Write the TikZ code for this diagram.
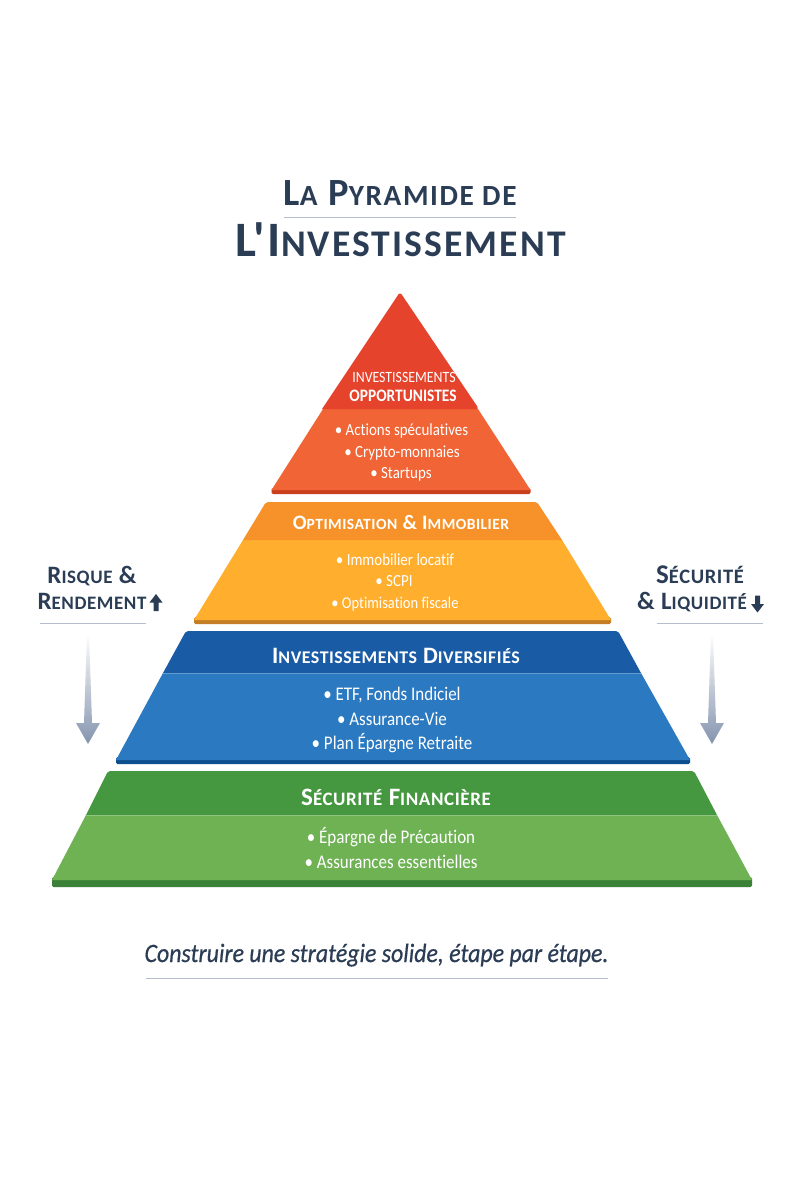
\documentclass[tikz,border=0pt]{standalone}
\usepackage{fontspec}
\setmainfont{Carlito}
\newfontfamily\cond[FakeStretch=0.88,Ligatures=NoCommon]{Carlito}
\newfontfamily\tcaps[LetterSpace=3,Ligatures=NoCommon]{Carlito}
\newfontfamily\tbig[LetterSpace=5.5,Ligatures=NoCommon]{Carlito}
\newfontfamily\tagf[FakeStretch=0.9,FakeBold=0.6,Ligatures=NoCommon]{Carlito}
\newcommand\smc[1]{\scalebox{.76}{#1}}
\usetikzlibrary{calc}
\definecolor{ink}{HTML}{2B3D55}
\definecolor{rulec}{HTML}{B4BECD}
\definecolor{arrowc}{HTML}{8494AE}
\definecolor{redA}{HTML}{E5432C}\definecolor{redB}{HTML}{F06435}\definecolor{redS}{HTML}{C9401F}
\definecolor{orA}{HTML}{F7922B}\definecolor{orB}{HTML}{FFAE2E}\definecolor{orS}{HTML}{C47F24}
\definecolor{blA}{HTML}{1A5BA6}\definecolor{blB}{HTML}{2A79C1}\definecolor{blS}{HTML}{0C4E8E}
\definecolor{grA}{HTML}{45983F}\definecolor{grB}{HTML}{6FB254}\definecolor{grS}{HTML}{3B8238}
\tikzset{
  x=1pt,y=-1pt,
  txt/.style={inner sep=0pt,outer sep=0pt,anchor=base,align=center},
  title1/.style={txt,text=ink,font=\fontsize{38.5}{38.5}\selectfont\tbig\bfseries},
  head/.style={txt,text=white,font=\fontsize{20.5}{20.5}\selectfont\tcaps\bfseries},
  item/.style={txt,text=white,font=\fontsize{17}{17}\selectfont\cond},
  itemb/.style={txt,text=white,font=\fontsize{19.3}{19.3}\selectfont\cond},
  side/.style={txt,text=ink,font=\fontsize{25}{25}\selectfont\tcaps\bfseries},
  rulel/.style={draw=rulec,line width=1pt},
  hl/.style={draw=white,draw opacity=.28,line width=.8pt},
  shadowband/.style={rounded corners=1.5pt},
}
\begin{document}
\begin{tikzpicture}
\useasboundingbox (0,0) rectangle (800,1200);
\fill[white] (0,0) rectangle (800,1200);
% title
\node[title1] (t1) at (400,205) {L\smc{A} P\smc{YRAMIDE DE}};
\coordinate (r1a) at (284,217); \coordinate (r1b) at (516,217);
\draw[rulel] (r1a) -- (r1b);
\node[title1,font=\fontsize{49.5}{49.5}\selectfont\tbig\bfseries] (t2) at (400.5,256) {L'I\smc{NVESTISSEMENT}};
% tier 1
\fill[redS,shadowband] (271.5,488) -- (530.5,488) -- (530.5,494) -- (271.5,494) -- cycle;
\fill[redB] (323,409) -- (478,409) -- (530.5,490) -- (271.5,490) -- cycle;
\fill[redA,rounded corners=3pt] (400,292) -- (479,409) [sharp corners] -- (322,409) [rounded corners=3pt] -- cycle;
\fill[redA] (323,409) -- (478,409) -- (400,350) -- cycle;
\node[txt,text=white,font=\fontsize{15.7}{15.7}\selectfont\cond] (h1a) at (404,382) {INVESTISSEMENTS};
\node[txt,text=white,font=\fontsize{17.5}{17.5}\selectfont\cond\bfseries] (h1b) at (403,401) {OPPORTUNISTES};
\node[item] (i1a) at (401.5,435) {• Actions spéculatives};
\node[item] (i1b) at (402,457) {• Crypto-monnaies};
\node[item] (i1c) at (401,478) {• Startups};
% tier 2
\fill[orS,shadowband] (194,617) -- (611,617) -- (611,624) -- (194,624) -- cycle;
\fill[orB] (243,540) -- (562,540) -- (611,620) -- (194,620) -- cycle;
\fill[orA] (243,540) [rounded corners=2pt] -- (266,502) -- (537,502) [sharp corners] -- (562,540) -- cycle;
\node[head] (h2) at (401,529) {O\smc{PTIMISATION} \& I\smc{MMOBILIER}};
\node[item] (i2a) at (395,565) {• Immobilier locatif};
\node[item] (i2b) at (394,586) {• SCPI};
\node[item,font=\fontsize{16.5}{16.5}\selectfont\cond] (i2c) at (395,608) {• Optimisation fiscale};
% tier 3
\fill[blS,shadowband] (116,757) -- (690,757) -- (690,764) -- (116,764) -- cycle;
\fill[blB] (163,673) -- (641,673) -- (690,760) -- (116,760) -- cycle;
\fill[blA] (163,673) [rounded corners=2pt] -- (186,631) -- (618,631) [sharp corners] -- (641,673) -- cycle;
\draw[hl] (163,673) -- (641,673);
\node[head,font=\fontsize{23.5}{23.5}\selectfont\tcaps\bfseries] (h3) at (396,663) {I\smc{NVESTISSEMENTS} D\smc{IVERSIFIÉS}};
\node[itemb] (i3a) at (392,700) {• ETF, Fonds Indiciel};
\node[itemb] (i3b) at (392,725) {• Assurance-Vie};
\node[itemb] (i3c) at (392,749) {• Plan Épargne Retraite};
% tier 4
\fill[grS,shadowband] (52,877) -- (752,877) -- (752,887) -- (52,887) -- cycle;
\fill[grB] (86,815) -- (717,815) -- (752,880) -- (52,880) -- cycle;
\fill[grA] (86,815) [rounded corners=2pt] -- (108,771) -- (694,771) [sharp corners] -- (717,815) -- cycle;
\draw[hl] (86,815) -- (717,815);
\node[head,font=\fontsize{25}{25}\selectfont\tcaps\bfseries] (h4) at (396,805) {S\smc{ÉCURITÉ} F\smc{INANCIÈRE}};
\node[itemb] (i4a) at (391,843) {• Épargne de Précaution};
\node[itemb] (i4b) at (391,868) {• Assurances essentielles};
% left side
\node[side] (l1) at (92,583) {R\smc{ISQUE} \&};
\node[side] (l2) at (92,609) {R\smc{ENDEMENT}};
\fill[ink] (156,594) -- (162.5,602.5) -- (158.5,602.5) -- (158.5,611) -- (153.5,611) -- (153.5,602.5) -- (149.5,602.5) -- cycle;
\coordinate (r2a) at (40,623.5); \coordinate (r2b) at (146,623.5);
\draw[rulel] (r2a) -- (r2b);
\shade[top color=white,bottom color=arrowc]
  (87,633) -- (89,633) -- (92,723) -- (100,723) -- (88,744) -- (76,723) -- (84,723) -- cycle;
% right side
\node[side,font=\fontsize{27}{27}\selectfont\tcaps\bfseries] (r1) at (700,583) {S\smc{ÉCURITÉ}};
\node[side] (r2) at (692,609) {\& L\smc{IQUIDITÉ}};
\fill[ink] (757.5,612.5) -- (764,604) -- (760,604) -- (760,595.5) -- (755,595.5) -- (755,604) -- (751,604) -- cycle;
\coordinate (r3a) at (657,623.5); \coordinate (r3b) at (763,623.5);
\draw[rulel] (r3a) -- (r3b);
\shade[top color=white,bottom color=arrowc]
  (711,633) -- (713,633) -- (716,723) -- (724,723) -- (712,744) -- (700,723) -- (708,723) -- cycle;
% tagline
\node[txt,text=ink,font=\fontsize{26.5}{26.5}\selectfont\tagf\itshape] (tag) at (376.5,962) {Construire une stratégie solide, étape par étape.};
\coordinate (r4a) at (146,978.5); \coordinate (r4b) at (608,978.5);
\draw[rulel] (r4a) -- (r4b);
\end{tikzpicture}
\end{document}
